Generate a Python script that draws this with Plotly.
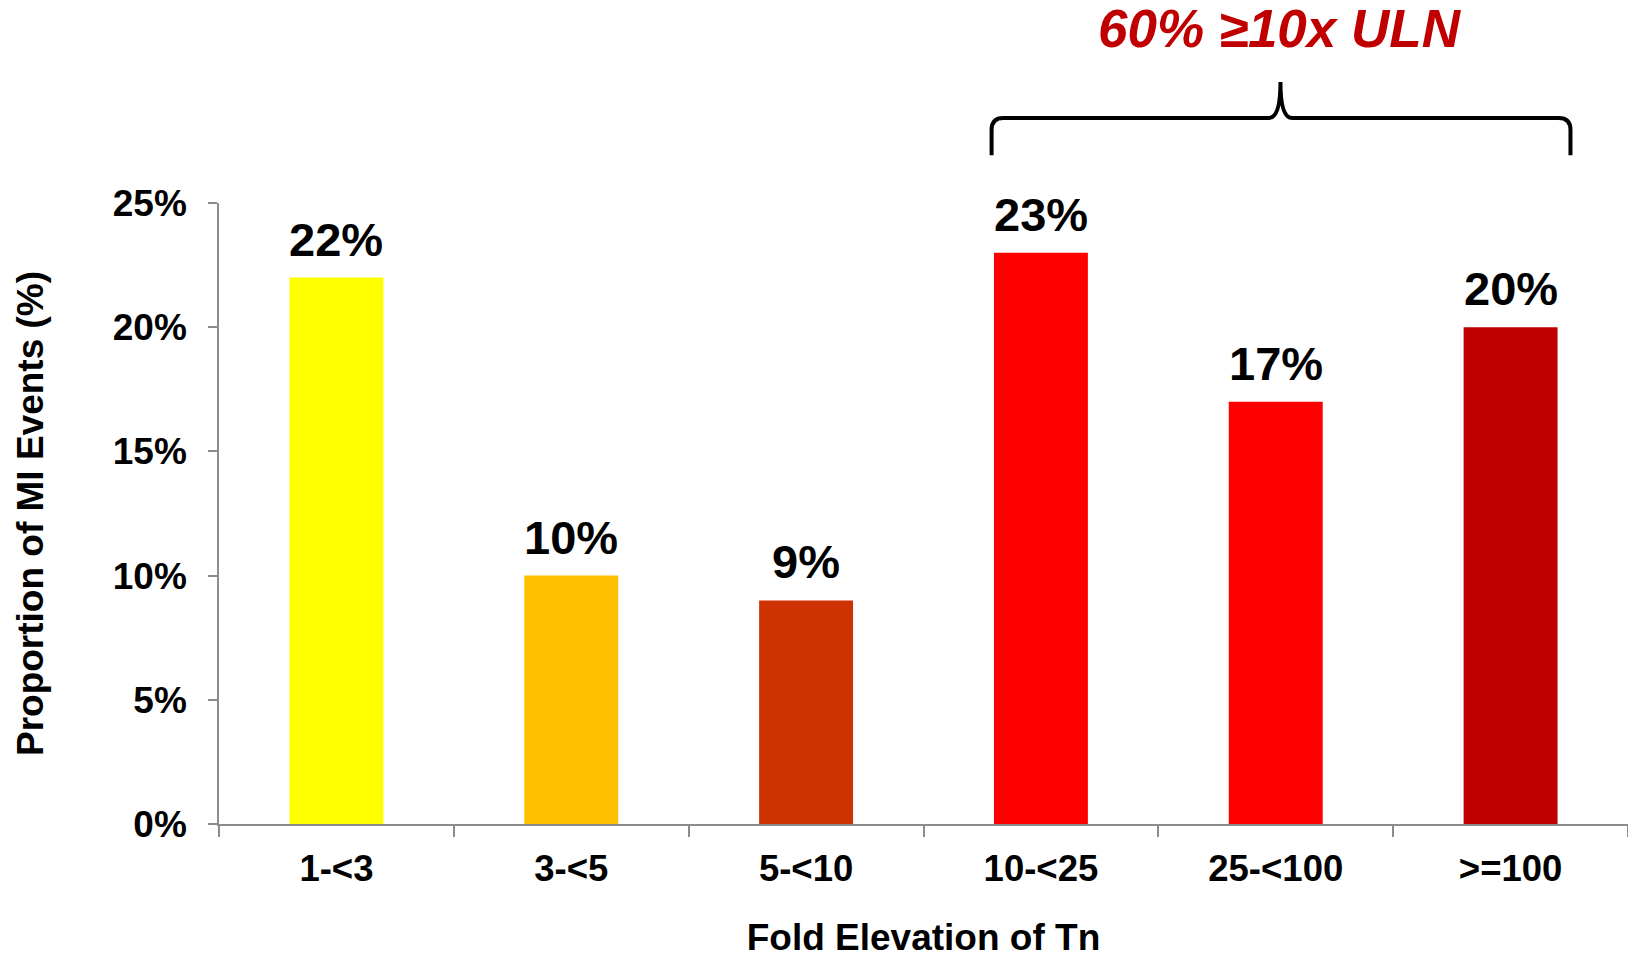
import plotly.graph_objects as go

# Share of MI events by fold elevation of troponin above the ULN
categories = ["1-<3", "3-<5", "5-<10", "10-<25", "25-<100", ">=100"]
proportions = [22, 10, 9, 23, 17, 20]
bar_colors = ["#FFFF00", "#FFC000", "#CC3300", "#FF0000", "#FF0000", "#C00000"]
y_tick_values = [0, 5, 10, 15, 20, 25]
y_tick_labels = ["0%", "5%", "10%", "15%", "20%", "25%"]
bracket_label = "60% ≥10x ULN"

FONT = "Liberation Sans, Arial, sans-serif"
AXIS_GREY = "#8C8C8C"


def esc(s):
    return s.replace("<", "&lt;").replace(">", "&gt;")


fig = go.Figure(
    go.Bar(
        x=categories,
        y=proportions,
        marker=dict(color=bar_colors, line=dict(width=0)),
        width=0.4,
        hoverinfo="skip",
    )
)

# value labels above each bar
for cat, val in zip(categories, proportions):
    fig.add_annotation(
        x=cat, y=val, text=f"<b>{val}%</b>", showarrow=False,
        xanchor="center", yanchor="bottom", yshift=10,
        font=dict(family=FONT, size=47, color="#000000"),
    )

# curly bracket spanning the three highest-elevation groups
xl, xr, xt = 2.79, 5.255, 4.02
yb, y1, yh, ytip = 1.077, 1.118, 1.137, 1.195
dx = 0.05
path = (
    f"M {xl},{yb} L {xl},{y1} Q {xl},{yh} {xl + dx},{yh} "
    f"L {xt - dx},{yh} Q {xt},{yh} {xt},{ytip} "
    f"Q {xt},{yh} {xt + dx},{yh} L {xr - dx},{yh} "
    f"Q {xr},{yh} {xr},{y1} L {xr},{yb}"
)
fig.add_shape(type="path", xref="x", yref="paper", path=path,
              line=dict(color="#000000", width=4))

fig.add_annotation(
    x=xt, y=1.281, xref="x", yref="paper",
    text=f"<b><i>{bracket_label}</i></b>", showarrow=False,
    xanchor="center", yanchor="middle",
    font=dict(family=FONT, size=53, color="#C00000"),
)

fig.update_layout(
    width=1628, height=958,
    margin=dict(l=219, r=0, t=203, b=134, autoexpand=False),
    paper_bgcolor="#FFFFFF", plot_bgcolor="#FFFFFF",
    showlegend=False,
    bargap=0.6,
    font=dict(family=FONT, color="#000000"),
)

fig.update_xaxes(
    type="category",
    tickmode="array", tickvals=categories, ticktext=[f"<b>{esc(c)}</b>" for c in categories],
    tickson="boundaries", ticks="outside", ticklen=11, tickwidth=1.5, tickcolor=AXIS_GREY,
    showline=True, linecolor=AXIS_GREY, linewidth=2,
    showgrid=False, zeroline=False,
    tickfont=dict(family=FONT, size=36.5, color="#000000"),
    ticklabelstandoff=11,
    automargin=False,
    title=dict(text="<b>Fold Elevation of Tn</b>", standoff=49,
               font=dict(family=FONT, size=37, color="#000000")),
    range=[-0.5, 5.5],
)

fig.update_yaxes(
    range=[0, 25],
    tickmode="array", tickvals=y_tick_values, ticktext=[f"<b>{t}</b>" for t in y_tick_labels],
    ticks="outside", ticklen=9, tickwidth=1.5, tickcolor=AXIS_GREY,
    showline=True, linecolor=AXIS_GREY, linewidth=1.5,
    showgrid=False, zeroline=False,
    tickfont=dict(family=FONT, size=37, color="#000000"),
    ticklabelstandoff=14,
    automargin=False,
    title=dict(text="<b>Proportion of MI Events (%)</b>", standoff=58,
               font=dict(family=FONT, size=37, color="#000000")),
)

fig.write_html("out.html")
